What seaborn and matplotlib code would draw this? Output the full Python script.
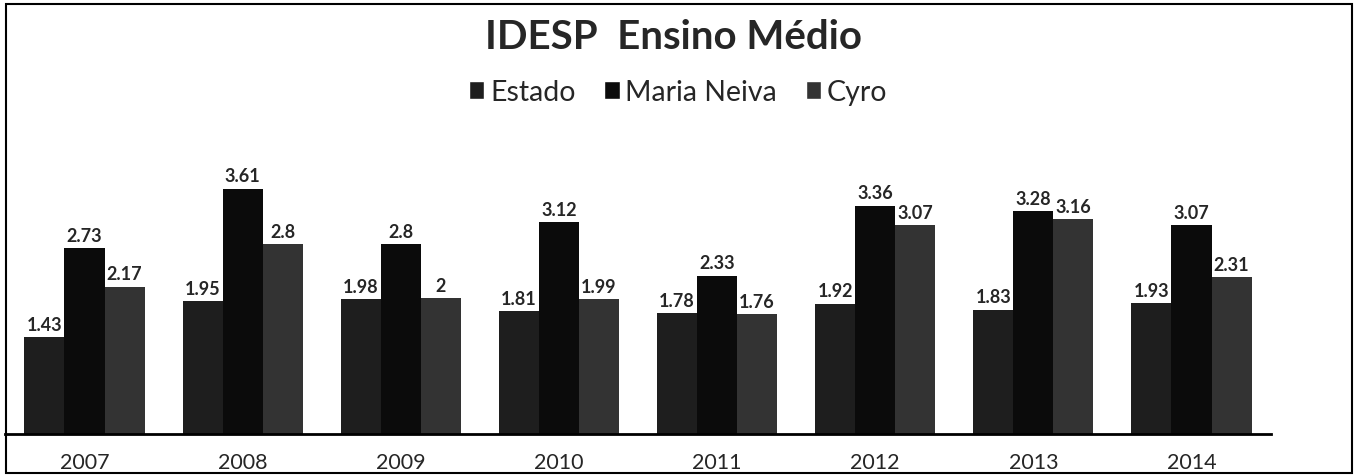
import pandas as pd
import numpy as np
import seaborn as sns
import matplotlib.pyplot as plt
from matplotlib.patches import Rectangle, Patch

# values
anos = ['2007', '2008', '2009', '2010', '2011', '2012', '2013', '2014']
estado = [1.43, 1.95, 1.98, 1.81, 1.78, 1.92, 1.83, 1.93]
maria_neiva = [2.73, 3.61, 2.8, 3.12, 2.33, 3.36, 3.28, 3.07]
cyro = [2.17, 2.8, 2, 1.99, 1.76, 3.07, 3.16, 2.31]
series = ['Estado', 'Maria Neiva', 'Cyro']
cores = ['#1e1e1e', '#0b0b0b', '#333333']

# long format for seaborn
df = pd.DataFrame({
    'ano': anos * 3,
    'valor': estado + maria_neiva + cyro,
    'serie': np.repeat(series, len(anos)),
})

sns.set_style('white')
plt.rcParams['font.family'] = ['Lato', 'DejaVu Sans']

fig = plt.figure(figsize=(13.56, 4.77), dpi=100)
ax = fig.add_axes([0.004, 0.088, 0.933, 0.570])

sns.barplot(data=df, x='ano', y='valor', hue='serie', palette=cores,
            width=0.76, saturation=1, ax=ax, legend=False, linewidth=0)

ax.set_ylim(0, 4)
ax.set_xlim(-0.5, 7.5)
ax.set_xlabel('')
ax.set_ylabel('')
ax.set_yticks([])
ax.tick_params(axis='x', length=0, pad=13, labelsize=15.5)
for s in ['top', 'right', 'left']:
    ax.spines[s].set_visible(False)
ax.spines['bottom'].set_linewidth(2)
ax.spines['bottom'].set_color('black')

# value labels on white boxes
for cont in ax.containers:
    ax.bar_label(cont, fmt='{:g}', padding=3, fontsize=13, fontweight='bold',
                 bbox=dict(facecolor='white', edgecolor='none', pad=1.2))

fig.text(0.497, 0.921, 'IDESP  Ensino Médio', ha='center', va='center',
         fontsize=29, fontweight='bold')

handles = [Patch(facecolor=c) for c in cores]
fig.legend(handles, series, loc='center', bbox_to_anchor=(0.5, 0.805), ncol=3,
           frameon=False, fontsize=20.5, handlelength=0.55, handleheight=0.55,
           handletextpad=0.2, columnspacing=1.0)

# outer frame of the chart
fig.add_artist(Rectangle((6 / 1356, 3 / 477), 1346 / 1356, 469 / 477,
                         transform=fig.transFigure, fill=False,
                         edgecolor='black', linewidth=1.5))

fig.savefig('out.png', dpi=100)
